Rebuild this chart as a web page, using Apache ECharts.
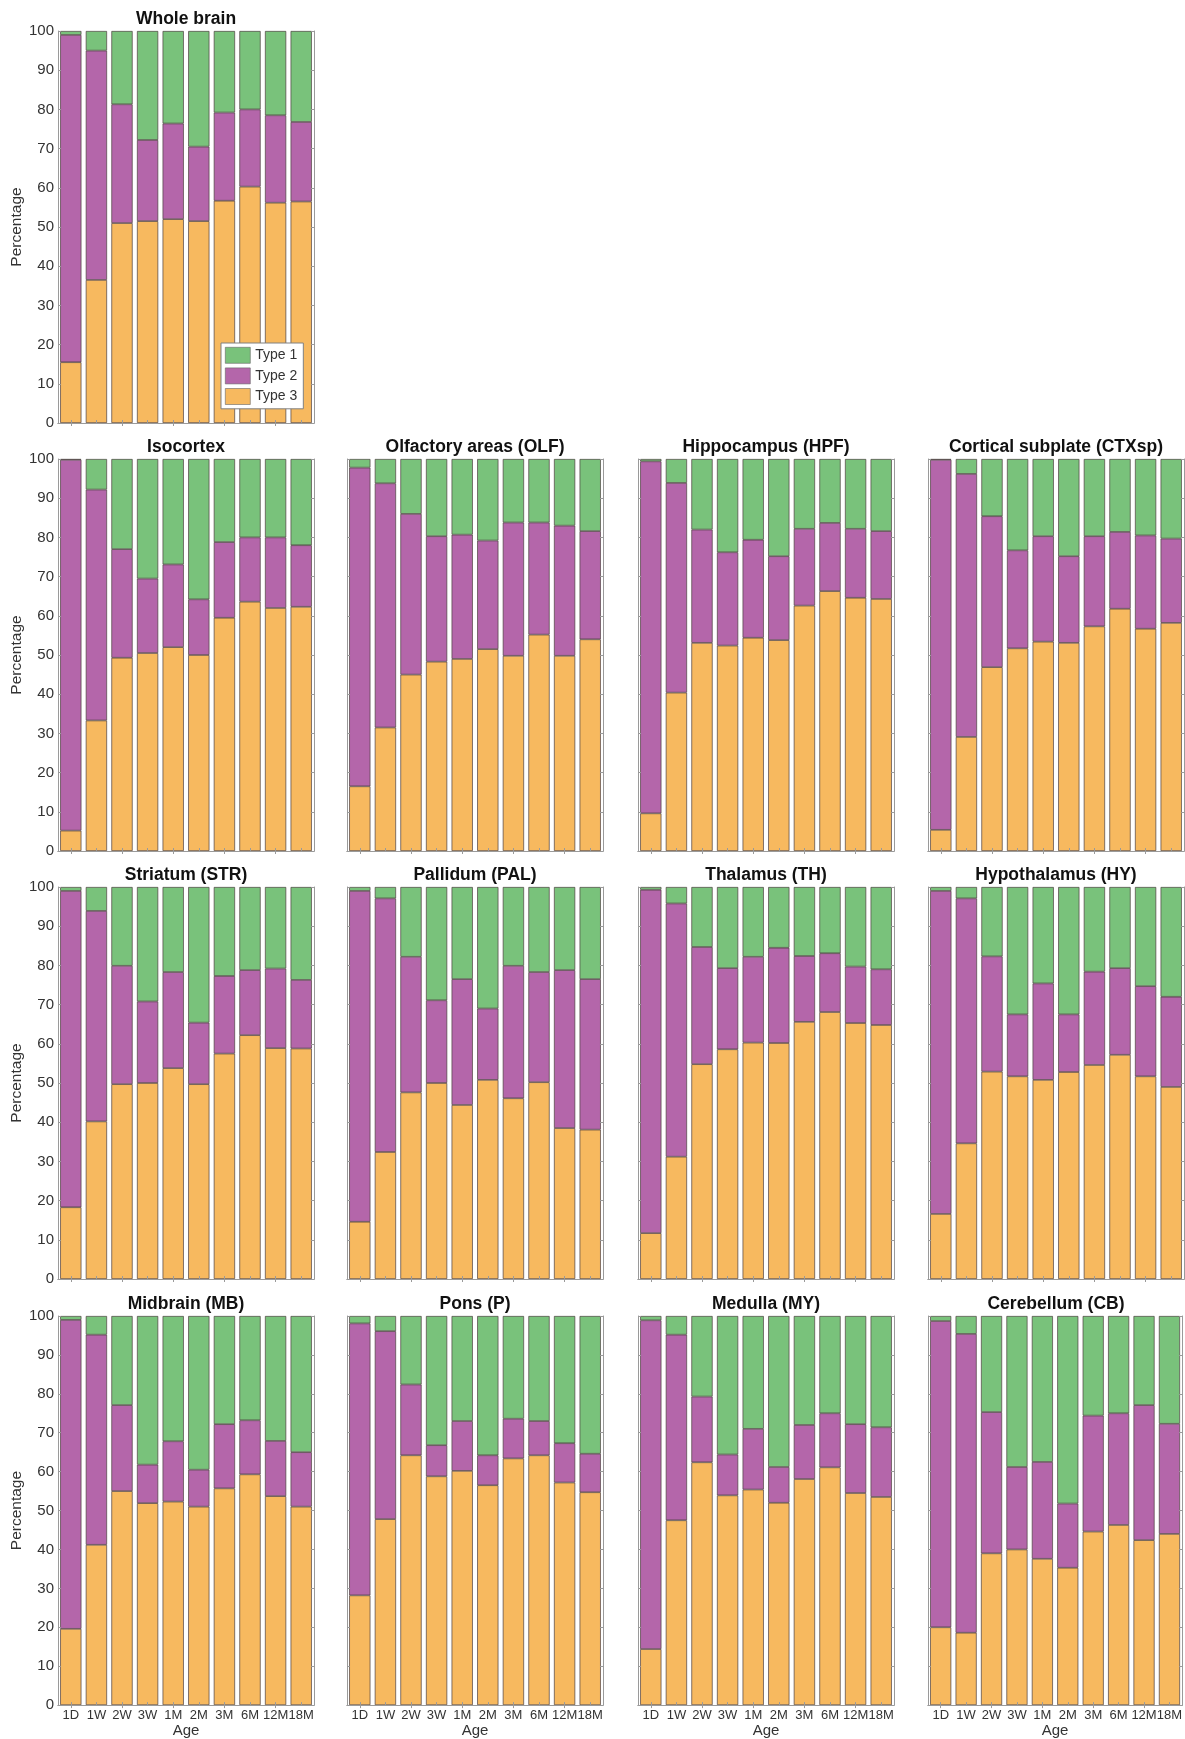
<!DOCTYPE html>
<html>
<head>
<meta charset="utf-8">
<script src="https://cdn.jsdelivr.net/npm/echarts@6/dist/echarts.min.js"></script>
<style>
  html, body { margin: 0; padding: 0; background: #ffffff; }
  #chart { width: 1185px; height: 1739px; }
</style>
</head>
<body>
<div id="chart"></div>
<script>
// ---------- categories / ticks ----------
const ages = ['1D', '1W', '2W', '3W', '1M', '2M', '3M', '6M', '12M', '18M'];
const yTickInterval = 10;
const seriesNames = ['Type 1', 'Type 2', 'Type 3'];

// ---------- data (percentages; Type 3 bottom, Type 2 middle, Type 1 top) ----------
const wholeBrainT3 = [15.5, 36.5, 51.0, 51.5, 52.0, 51.5, 56.7, 60.3, 56.2, 56.5];
const wholeBrainT2 = [83.5, 58.5, 30.3, 20.7, 24.4, 19.0, 22.5, 19.7, 22.3, 20.3];
const wholeBrainT1 = [1.0, 5.0, 18.7, 27.8, 23.6, 29.5, 20.8, 20.0, 21.5, 23.2];

const isocortexT3 = [5.2, 33.3, 49.3, 50.5, 52.0, 50.0, 59.5, 63.6, 62.0, 62.3];
const isocortexT2 = [94.6, 58.9, 27.7, 19.0, 21.1, 14.2, 19.3, 16.4, 18.0, 15.7];
const isocortexT1 = [0.2, 7.8, 23.0, 30.5, 26.9, 35.8, 21.2, 20.0, 20.0, 22.0];

const olfT3 = [16.5, 31.5, 45.0, 48.3, 49.0, 51.5, 49.8, 55.2, 49.8, 54.0];
const olfT2 = [81.3, 62.3, 41.0, 32.0, 31.7, 27.7, 34.0, 28.6, 33.2, 27.6];
const olfT1 = [2.2, 6.2, 14.0, 19.7, 19.3, 20.8, 16.2, 16.2, 17.0, 18.4];

const hpfT3 = [9.6, 40.4, 53.1, 52.4, 54.4, 53.8, 62.6, 66.3, 64.6, 64.3];
const hpfT2 = [89.8, 53.5, 28.9, 23.8, 25.0, 21.4, 19.6, 17.4, 17.6, 17.3];
const hpfT1 = [0.6, 6.1, 18.0, 23.8, 20.6, 24.8, 17.8, 16.3, 17.8, 18.4];

const ctxspT3 = [5.4, 29.1, 46.9, 51.7, 53.4, 53.1, 57.3, 61.8, 56.7, 58.2];
const ctxspT2 = [94.4, 67.1, 38.5, 25.0, 26.9, 22.1, 23.0, 19.6, 23.8, 21.5];
const ctxspT1 = [0.2, 3.8, 14.6, 23.3, 19.7, 24.8, 19.7, 18.6, 19.5, 20.3];

const strT3 = [18.3, 40.2, 49.7, 50.0, 53.8, 49.7, 57.5, 62.2, 58.9, 58.8];
const strT2 = [80.7, 53.7, 30.2, 20.8, 24.5, 15.7, 19.8, 16.6, 20.3, 17.5];
const strT1 = [1.0, 6.1, 20.1, 29.2, 21.7, 34.6, 22.7, 21.2, 20.8, 23.7];

const palT3 = [14.6, 32.4, 47.6, 50.0, 44.4, 50.8, 46.1, 50.2, 38.5, 38.1];
const palT2 = [84.4, 64.7, 34.6, 21.1, 32.1, 18.2, 33.8, 28.1, 40.3, 38.4];
const palT1 = [1.0, 2.9, 17.8, 28.9, 23.5, 31.0, 20.1, 21.7, 21.2, 23.5];

const thT3 = [11.7, 31.2, 54.8, 58.6, 60.3, 60.2, 65.6, 68.1, 65.3, 64.8];
const thT2 = [87.6, 64.6, 29.9, 20.7, 21.9, 24.3, 16.8, 15.0, 14.4, 14.2];
const thT1 = [0.7, 4.2, 15.3, 20.7, 17.8, 15.5, 17.6, 16.9, 20.3, 21.0];

const hyT3 = [16.6, 34.6, 52.9, 51.7, 50.8, 52.8, 54.6, 57.2, 51.7, 49.0];
const hyT2 = [82.4, 62.5, 29.4, 15.8, 24.6, 14.7, 23.8, 22.1, 23.0, 23.0];
const hyT1 = [1.0, 2.9, 17.7, 32.5, 24.6, 32.5, 21.6, 20.7, 25.3, 28.0];

const mbT3 = [19.6, 41.2, 55.0, 51.9, 52.3, 51.0, 55.7, 59.3, 53.7, 51.0];
const mbT2 = [79.4, 54.0, 22.1, 9.9, 15.5, 9.5, 16.5, 13.9, 14.2, 14.0];
const mbT1 = [1.0, 4.8, 22.9, 38.2, 32.2, 39.5, 27.8, 26.8, 32.1, 35.0];

const ponsT3 = [28.2, 47.8, 64.2, 58.8, 60.2, 56.5, 63.4, 64.2, 57.2, 54.7];
const ponsT2 = [69.9, 48.3, 18.2, 8.0, 12.8, 7.7, 10.2, 8.8, 10.1, 9.9];
const ponsT1 = [1.9, 3.9, 17.6, 33.2, 27.0, 35.8, 26.4, 27.0, 32.7, 35.4];

const myT3 = [14.4, 47.5, 62.4, 53.9, 55.4, 52.0, 58.1, 61.1, 54.5, 53.5];
const myT2 = [84.5, 47.7, 16.9, 10.5, 15.6, 9.2, 13.9, 13.9, 17.7, 17.9];
const myT1 = [1.1, 4.8, 20.7, 35.6, 29.0, 38.8, 28.0, 25.0, 27.8, 28.6];

const cbT3 = [20.0, 18.6, 39.0, 40.0, 37.6, 35.3, 44.6, 46.3, 42.4, 44.0];
const cbT2 = [78.7, 76.8, 36.3, 21.2, 24.9, 16.5, 29.8, 28.7, 34.7, 28.3];
const cbT1 = [1.3, 4.6, 24.7, 38.8, 37.5, 48.2, 25.6, 25.0, 22.9, 27.7];

// ---------- panels (title, data arrays, grid row/col) ----------
const panels = [
  { title: 'Whole brain', t1: wholeBrainT1, t2: wholeBrainT2, t3: wholeBrainT3, row: 0, col: 0 },
  { title: 'Isocortex', t1: isocortexT1, t2: isocortexT2, t3: isocortexT3, row: 1, col: 0 },
  { title: 'Olfactory areas (OLF)', t1: olfT1, t2: olfT2, t3: olfT3, row: 1, col: 1 },
  { title: 'Hippocampus (HPF)', t1: hpfT1, t2: hpfT2, t3: hpfT3, row: 1, col: 2 },
  { title: 'Cortical subplate (CTXsp)', t1: ctxspT1, t2: ctxspT2, t3: ctxspT3, row: 1, col: 3 },
  { title: 'Striatum (STR)', t1: strT1, t2: strT2, t3: strT3, row: 2, col: 0 },
  { title: 'Pallidum (PAL)', t1: palT1, t2: palT2, t3: palT3, row: 2, col: 1 },
  { title: 'Thalamus (TH)', t1: thT1, t2: thT2, t3: thT3, row: 2, col: 2 },
  { title: 'Hypothalamus (HY)', t1: hyT1, t2: hyT2, t3: hyT3, row: 2, col: 3 },
  { title: 'Midbrain (MB)', t1: mbT1, t2: mbT2, t3: mbT3, row: 3, col: 0 },
  { title: 'Pons (P)', t1: ponsT1, t2: ponsT2, t3: ponsT3, row: 3, col: 1 },
  { title: 'Medulla (MY)', t1: myT1, t2: myT2, t3: myT3, row: 3, col: 2 },
  { title: 'Cerebellum (CB)', t1: cbT1, t2: cbT2, t3: cbT3, row: 3, col: 3 }
];

// ---------- layout & style ----------
const colLeft = [58, 347, 638, 928];
const rowTop = [31, 459, 887, 1316];
const plotW = 256;
const plotH = 392;
const FONT = 'Liberation Sans, Arial, Helvetica, sans-serif';
const COLORS = { 'Type 1': '#79c27b', 'Type 2': '#b466aa', 'Type 3': '#f7b95f' };
const FRAME = '#9a9a9a';
const TEXT = '#333333';

const grids = [], xAxes = [], yAxes = [], series = [], titles = [];

panels.forEach((p, i) => {
  const left = colLeft[p.col];
  const top = rowTop[p.row];
  const showX = p.row === 3;
  const showY = p.col === 0;

  grids.push({ left: left, top: top, width: plotW, height: plotH, containLabel: false });

  titles.push({
    text: p.title,
    left: left + plotW / 2,
    top: top - 21,
    textAlign: 'center',
    padding: 0,
    textStyle: { fontFamily: FONT, fontSize: 17.5, fontWeight: 'bold', color: '#111' }
  });

  const tickStyle = { show: true, inside: true, length: 3, lineStyle: { color: FRAME, width: 1 } };

  // bottom x axis
  xAxes.push({
    type: 'category', gridIndex: i, data: ages, position: 'bottom', z: 5,
    axisLine: { show: true, lineStyle: { color: FRAME, width: 1 } },
    axisTick: Object.assign({ alignWithLabel: true }, tickStyle),
    axisLabel: { show: showX, interval: 0, margin: 4, fontFamily: FONT, fontSize: 13, color: TEXT },
    name: showX ? 'Age' : '',
    nameLocation: 'middle', nameGap: 17,
    nameTextStyle: { fontFamily: FONT, fontSize: 15, color: TEXT },
    splitLine: { show: false }
  });
  // top x axis (frame + ticks)
  xAxes.push({
    type: 'category', gridIndex: i, data: ages, position: 'top', z: 5,
    axisLine: { show: true, lineStyle: { color: FRAME, width: 1 } },
    axisTick: Object.assign({ alignWithLabel: true }, tickStyle),
    axisLabel: { show: false }, splitLine: { show: false }
  });
  // left y axis
  yAxes.push({
    type: 'value', gridIndex: i, min: 0, max: 100, interval: yTickInterval, position: 'left', z: 5,
    axisLine: { show: true, lineStyle: { color: FRAME, width: 1 } },
    axisTick: tickStyle,
    axisLabel: { show: showY, margin: 4, fontFamily: FONT, fontSize: 15, color: TEXT },
    splitLine: { show: false },
    name: showY ? 'Percentage' : '',
    nameLocation: 'middle', nameGap: 32, nameRotate: 90,
    nameTextStyle: { fontFamily: FONT, fontSize: 15.5, color: TEXT }
  });
  // right y axis (frame + ticks)
  yAxes.push({
    type: 'value', gridIndex: i, min: 0, max: 100, interval: yTickInterval, position: 'right', z: 5,
    axisLine: { show: true, lineStyle: { color: FRAME, width: 1 } },
    axisTick: tickStyle,
    axisLabel: { show: false }, splitLine: { show: false }
  });

  const segs = [['Type 3', p.t3], ['Type 2', p.t2], ['Type 1', p.t1]];
  segs.forEach(([name, vals]) => {
    series.push({
      name: name, type: 'bar', stack: 'panel' + i,
      xAxisIndex: 2 * i, yAxisIndex: 2 * i,
      data: vals,
      barCategoryGap: '17%',
      itemStyle: { color: COLORS[name], borderColor: '#4d4040', borderWidth: 0.7 },
      emphasis: { disabled: true },
      animation: false
    });
  });
});

const chart = echarts.init(document.getElementById('chart'), null, { renderer: 'canvas' });
chart.setOption({
  backgroundColor: '#ffffff',
  animation: false,
  title: titles,
  grid: grids,
  xAxis: xAxes,
  yAxis: yAxes,
  legend: {
    data: seriesNames.map(n => ({ name: n, icon: 'rect' })),
    orient: 'vertical',
    left: 221, top: 343,
    itemWidth: 25, itemHeight: 16, itemGap: 4,
    padding: [4, 6, 4, 4],
    backgroundColor: '#ffffff',
    borderColor: '#808080', borderWidth: 1,
    selectedMode: false,
    itemStyle: { borderColor: '#666666', borderWidth: 0.6 },
    textStyle: { fontFamily: FONT, fontSize: 14, color: TEXT }
  },
  series: series
});
</script>
</body>
</html>
